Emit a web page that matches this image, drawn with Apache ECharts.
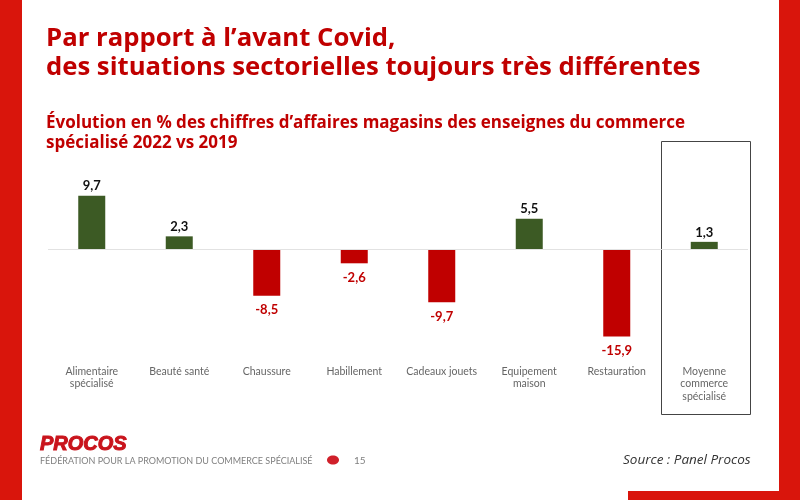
<!DOCTYPE html>
<html>
<head>
<meta charset="utf-8">
<script src="https://cdn.jsdelivr.net/npm/echarts@6/dist/echarts.min.js"></script>
<style>
  html, body { margin: 0; padding: 0; background: #fff; }
  #main { width: 800px; height: 500px; }
</style>
</head>
<body>
<div id="main"></div>
<script>
// données
const categories = ['Alimentaire\nspécialisé', 'Beauté santé', 'Chaussure', 'Habillement', 'Cadeaux jouets', 'Equipement\nmaison', 'Restauration', 'Moyenne\ncommerce\nspécialisé'];
const values = [9.7, 2.3, -8.5, -2.6, -9.7, 5.5, -15.9, 1.3];

const titleLines = ['Par rapport à l’avant Covid,', 'des situations sectorielles toujours très différentes'];
const subtitleLines = ['Évolution en % des chiffres d’affaires magasins des enseignes du commerce', 'spécialisé 2022 vs 2019'];

const RED = '#c00000';
const GREEN = '#3c5a24';
const BAND = '#d9150c';
const FONT = '"Open Sans", Lato, sans-serif';
const LABEL_FONT = 'Lato, sans-serif';

let chart = echarts.init(document.getElementById('main'), null, { renderer: 'canvas' });

function text(x, y, str, style) {
  return {
    type: 'text', x: x, y: y, silent: true,
    style: Object.assign({ text: str, fontFamily: FONT, textVerticalAlign: 'middle' }, style)
  };
}

let option = {
  animation: false,
  backgroundColor: '#fff',
  grid: { left: 48, width: 700, top: 194, height: 165 },
  xAxis: {
    type: 'category',
    data: categories,
    position: 'bottom',
    axisLine: { show: false, onZero: false },
    axisTick: { show: false },
    axisLabel: { interval: 0, color: '#666', fontFamily: LABEL_FONT, fontSize: 10.5, lineHeight: 12.5, margin: 6, verticalAlign: 'top' }
  },
  yAxis: { type: 'value', min: -20, max: 10, interval: 10, show: false },
  series: [{
    type: 'bar',
    barWidth: 27,
    data: values.map(v => ({
      value: v,
      itemStyle: { color: v < 0 ? RED : GREEN },
      label: { color: v < 0 ? RED : '#111', distance: v < 0 ? 8 : 3 }
    })),
    label: {
      show: true,
      position: 'outside',
      fontFamily: LABEL_FONT,
      fontWeight: 'bold',
      fontSize: 13,
      formatter: p => String(p.value).replace('.', ',')
    },
    markLine: {
      silent: true,
      symbol: 'none',
      label: { show: false },
      lineStyle: { color: '#e2e2e2', width: 1, type: 'solid' },
      data: [{ yAxis: 0 }]
    }
  }],
  graphic: [
    // bandes rouges
    { type: 'rect', shape: { x: 0, y: 0, width: 22, height: 500 }, style: { fill: BAND }, silent: true },
    { type: 'rect', shape: { x: 779, y: 0, width: 21, height: 500 }, style: { fill: BAND }, silent: true },
    { type: 'rect', shape: { x: 628, y: 491, width: 152, height: 9 }, style: { fill: BAND }, silent: true },
    // cadre moyenne
    { type: 'rect', shape: { x: 661.5, y: 141.5, width: 89, height: 273 }, style: { fill: 'none', stroke: '#444', lineWidth: 1 }, silent: true },
    // titres
    text(46, 39, titleLines[0], { fontSize: 25.7, fontWeight: 'bold', fill: RED }),
    text(46, 68, titleLines[1], { fontSize: 25.7, fontWeight: 'bold', fill: RED }),
    text(46, 123, subtitleLines[0], { fontSize: 17, fontWeight: 'bold', fill: RED }),
    text(46, 143, subtitleLines[1], { fontSize: 17, fontWeight: 'bold', fill: RED }),
    // pied de page
    text(40, 444, 'PROCOS', { fontSize: 20, fontWeight: 900, fontStyle: 'italic', fill: '#c9141c', fontFamily: '"Liberation Sans", sans-serif', stroke: '#c9141c', lineWidth: 1 }),
    text(40, 461, 'FÉDÉRATION POUR LA PROMOTION DU COMMERCE SPÉCIALISÉ', { fontSize: 9, fill: '#808080', fontFamily: LABEL_FONT }),
    { type: 'ellipse', shape: { cx: 333, cy: 460, rx: 6, ry: 4.5 }, style: { fill: '#d0202a' }, silent: true },
    text(354, 461, '15', { fontSize: 10, fill: '#808080', fontFamily: LABEL_FONT }),
    text(623, 460, 'Source : Panel Procos', { fontSize: 13.5, fontStyle: 'italic', fill: '#333' })
  ]
};
chart.setOption(option);
window.onresize = () => { chart.resize() };
</script>
</body>
</html>
